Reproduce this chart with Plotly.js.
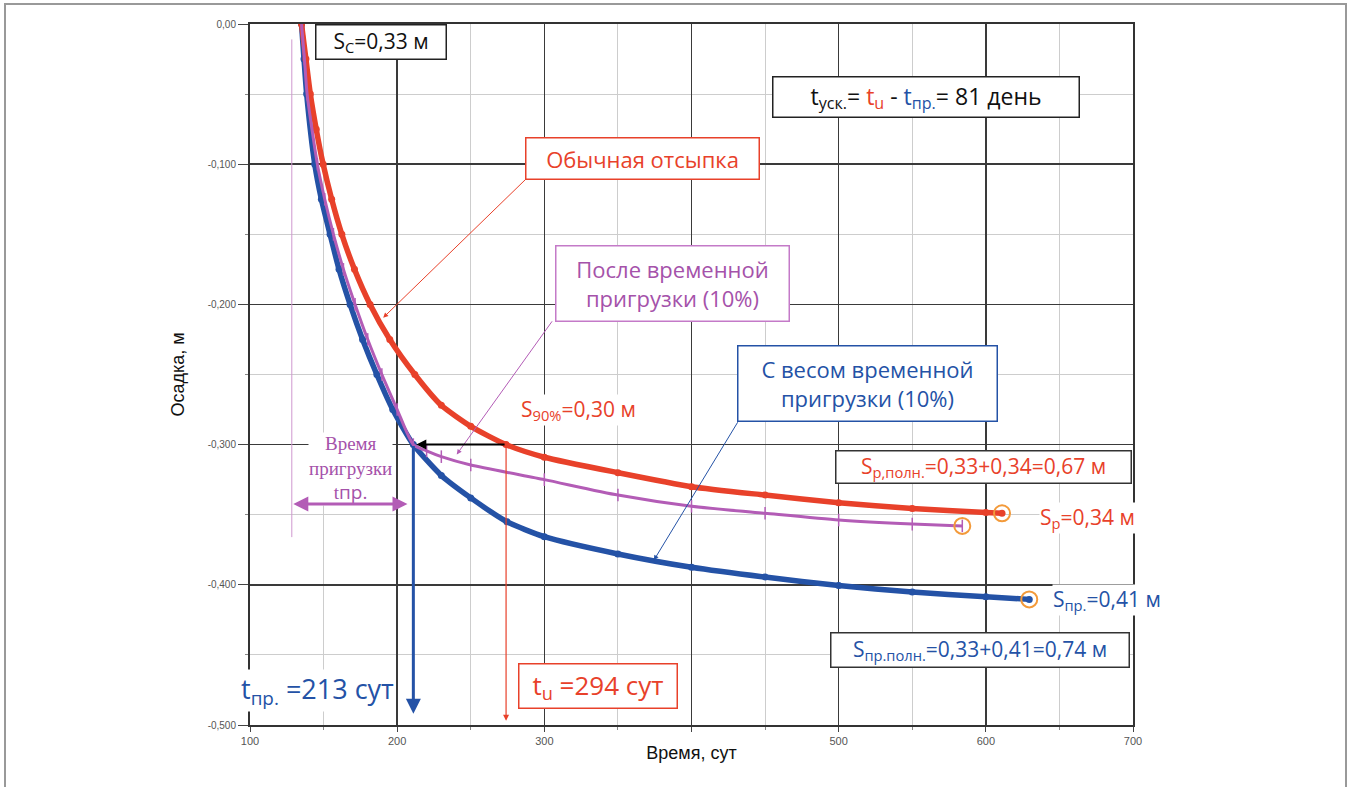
<!DOCTYPE html>
<html>
<head>
<meta charset="utf-8">
<script src="https://cdn.plot.ly/plotly-3.0.1.min.js"></script>
<style>html,body{margin:0;padding:0;background:#fff;}#chart{width:1352px;height:787px;}</style>
</head>
<body>
<div id="chart"></div>
<script>
// ---- data (time in days, settlement in m) ----
const redX = [135, 138, 141, 145, 149.7, 155.5, 162.4, 171, 181.6, 195, 212, 230, 250, 274, 300, 350, 400, 450, 500, 550, 600, 611];
const redY = [0, -0.025, -0.05, -0.075, -0.1, -0.125, -0.15, -0.175, -0.2, -0.225, -0.25, -0.272, -0.287, -0.3, -0.309, -0.32, -0.33, -0.336, -0.3415, -0.3455, -0.3485, -0.349];

const blueX = [135, 136.7, 138.5, 144, 148.5, 154.4, 160.5, 168, 176.5, 186.2, 197, 211, 230, 250, 274.6, 300, 350, 400, 450, 500, 550, 600, 629.5];
const blueY = [0, -0.025, -0.05, -0.1, -0.125, -0.15, -0.175, -0.2, -0.225, -0.25, -0.275, -0.3, -0.322, -0.338, -0.355, -0.3657, -0.378, -0.3875, -0.3945, -0.4005, -0.4052, -0.4085, -0.4104];

const purpleX = [135, 137, 138.8, 145.8, 150.8, 156.7, 163.5, 171.4, 180, 189.6, 200, 211, 220, 230, 250, 300, 350, 400, 450, 500, 550, 584];
const purpleY = [0, -0.025, -0.05, -0.1, -0.125, -0.15, -0.175, -0.2, -0.225, -0.25, -0.275, -0.3, -0.3045, -0.3086, -0.3146, -0.325, -0.336, -0.344, -0.349, -0.3538, -0.3567, -0.358];

const xTickVals = [100, 200, 300, 400, 500, 600, 700];
const xTickText = ['100', '200', '300', '', '500', '600', '700'];
const yTickVals = [0, -0.1, -0.2, -0.3, -0.4, -0.5];
const yTickText = ['0,00', '-0,100', '-0,200', '-0,300', '-0,400', '-0,500'];
const xMinorVals = [150, 250, 350, 450, 550, 650];
const yMinorVals = [-0.05, -0.15, -0.25, -0.35, -0.45];

// ---- styling ----
const RED = '#e8412a', BLUE = '#2452a6', PURPLE = '#b35cb6', PTEXT = '#a552aa', ORANGE = '#f39a3a';
const FONT = 'Open Sans, Liberation Sans, sans-serif';
const L = 250, T = 24, W = 883, H = 701;
const PX = px => (px - L) / W;
const PY = py => (T + H - py) / H;

const last = a => a[a.length - 1];

const traces = [
  {x: blueX, y: blueY, mode: 'lines+markers', line: {color: BLUE, width: 5.5, shape: 'spline', smoothing: 0.6},
   marker: {color: BLUE, size: 7}, hoverinfo: 'x+y'},
  {x: redX, y: redY, mode: 'lines+markers', line: {color: RED, width: 5.5, shape: 'spline', smoothing: 0.6},
   marker: {color: RED, size: 7}, hoverinfo: 'x+y'},
  {x: purpleX, y: purpleY, mode: 'lines+markers', line: {color: PURPLE, width: 3, shape: 'spline', smoothing: 0.6},
   marker: {color: PURPLE, size: 9, symbol: 'line-ns-open', line: {color: PURPLE, width: 1.5}}, hoverinfo: 'x+y'},
  {x: [last(redX), last(purpleX), last(blueX)], y: [last(redY), last(purpleY), last(blueY)], mode: 'markers',
   marker: {symbol: 'circle-open', size: 16, color: ORANGE, line: {color: ORANGE, width: 2}}, hoverinfo: 'skip'}
];

function box(cx, cy, w, h, text, color, border, size) {
  return {xref: 'paper', yref: 'paper', x: PX(cx), y: PY(cy), xanchor: 'center', yanchor: 'middle',
    text: text, showarrow: false, font: {family: FONT, size: size, color: color},
    bgcolor: '#ffffff', bordercolor: border, borderwidth: 1.5, borderpad: 0, width: w - 3, height: h - 3};
}
function label(cx, cy, text, color, size, family, bg) {
  return {xref: 'paper', yref: 'paper', x: PX(cx), y: PY(cy), xanchor: 'center', yanchor: 'middle',
    text: text, showarrow: false, font: {family: family || FONT, size: size, color: color},
    bgcolor: bg === undefined ? '#ffffff' : bg, borderpad: 0};
}
function arrow(x, y, ax, ay, color, width, head, extra) {
  return Object.assign({xref: 'x', yref: 'y', axref: 'x', ayref: 'y', x: x, y: y, ax: ax, ay: ay, text: '',
    showarrow: true, arrowcolor: color, arrowwidth: width, arrowhead: head, arrowsize: 1, standoff: 0, startstandoff: 0}, extra || {});
}

const annotations = [
  box(381, 42, 132, 36, 'S<sub>C</sub>=0,33 м', '#111', '#222', 21),
  box(926, 97, 308, 42, 't<sub>уск.</sub>= <span style="color:' + RED + '">t<sub>u</sub></span> - <span style="color:' + BLUE + '">t<sub>пр.</sub></span>= 81 день', '#111', '#222', 23),
  box(642.5, 158.5, 235, 43, 'Обычная отсыпка', RED, RED, 22),
  box(672.5, 283.5, 235, 77, 'После временной<br>пригрузки (10%)', PTEXT, '#c47ac8', 22),
  box(867.5, 383.5, 261, 77, 'С весом временной<br>пригрузки (10%)', BLUE, BLUE, 22),
  box(983.5, 467, 297, 34, 'S<sub>р,полн.</sub>=0,33+0,34=0,67 м', RED, '#333', 21),
  box(980, 650, 300, 36, 'S<sub>пр.полн.</sub>=0,33+0,41=0,74 м', BLUE, '#333', 21),
  box(598, 686, 160, 46, 't<sub>u</sub> =294 сут', RED, RED, 26),
  label(578, 410, 'S<sub>90%</sub>=0,30 м', RED, 21),
  label(1087, 518, 'S<sub>р</sub>=0,34 м', RED, 21),
  label(1107, 600, 'S<sub>пр.</sub>=0,41 м', BLUE, 21),
  label(317, 690, 't<sub>пр.</sub> =213 сут', BLUE, 27),
  label(350, 469, 'Время<br>пригрузки<br>t<span style="font-family:Open Sans">пр.</span>', PTEXT, 19, 'Liberation Serif, serif'),
  // callout pointers
  arrow(190.5, -0.2095, 288.4, -0.1097, RED, 1, 2),
  arrow(240.5, -0.307, 306, -0.211, PURPLE, 1, 2),
  arrow(374.4, -0.3825, 432, -0.283, BLUE, 1, 2),
  // reading arrows
  arrow(213, -0.3, 274, -0.3, '#000', 2, 2),
  arrow(211, -0.492, 211, -0.3, BLUE, 3, 2),
  arrow(274, -0.497, 274, -0.3, RED, 1.2, 2),
  arrow(207, -0.3424, 128.4, -0.3424, PURPLE, 3, 2, {arrowside: 'end+start', startarrowhead: 2})
];

const shapes = [
  {type: 'line', xref: 'x', yref: 'y', x0: 128.4, x1: 128.4, y0: -0.011, y1: -0.366, line: {color: '#cf98cf', width: 1}},
  {type: 'rect', xref: 'paper', yref: 'paper', x0: PX(5), x1: PX(1346), y0: PY(4), y1: PY(792), line: {color: '#999', width: 2}, layer: 'below'}
];

const layout = {
  width: 1352, height: 787,
  margin: {l: L, r: 1352 - L - W, t: T, b: 787 - T - H, pad: 0},
  paper_bgcolor: '#fff', plot_bgcolor: '#fff',
  showlegend: false,
  font: {family: 'Liberation Sans, Arial, sans-serif', color: '#111'},
  xaxis: {
    range: [100, 700], tickmode: 'array', tickvals: xTickVals, ticktext: xTickText,
    showgrid: true, gridcolor: '#3a3a3a', gridwidth: 1.5, zeroline: false,
    showline: true, linecolor: '#333', linewidth: 2, mirror: true,
    ticks: 'outside', ticklen: 5, tickcolor: '#444', tickwidth: 1,
    tickfont: {size: 11, color: '#555'},
    minor: {tickmode: 'array', tickvals: xMinorVals, showgrid: true, gridcolor: '#cdcdcd', gridwidth: 1, ticks: 'outside', ticklen: 3, tickcolor: '#888'},
    title: {text: 'Время, сут', font: {size: 18, color: '#111'}, standoff: 0},
    automargin: false
  },
  yaxis: {
    range: [-0.5, 0], tickmode: 'array', tickvals: yTickVals, ticktext: yTickText,
    showgrid: true, gridcolor: '#3a3a3a', gridwidth: 1.5, zeroline: false,
    showline: true, linecolor: '#333', linewidth: 2, mirror: true,
    ticks: 'outside', ticklen: 10, tickcolor: '#444', tickwidth: 1,
    tickfont: {size: 10, color: '#555'},
    minor: {tickmode: 'array', tickvals: yMinorVals, showgrid: true, gridcolor: '#cdcdcd', gridwidth: 1, ticks: 'outside', ticklen: 3, tickcolor: '#888'},
    title: {text: 'Осадка, м', font: {size: 18, color: '#111'}, standoff: 18},
    automargin: false
  },
  annotations: annotations,
  shapes: shapes
};

Plotly.newPlot('chart', traces, layout, {displayModeBar: false, staticPlot: true});
</script>
</body>
</html>
